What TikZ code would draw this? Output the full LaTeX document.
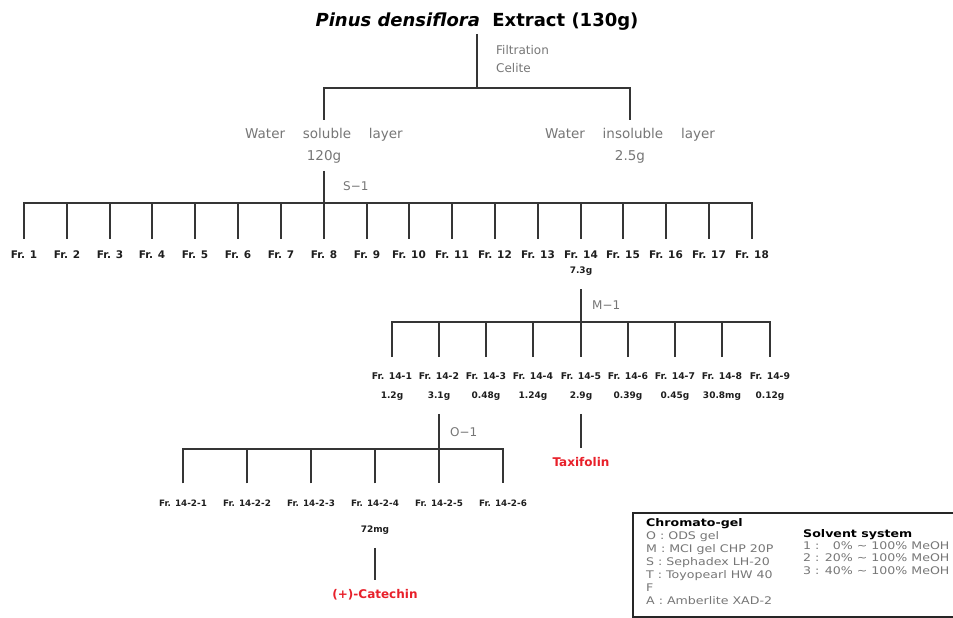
\documentclass[tikz,border=0pt]{standalone}
\usepackage{fontspec}
\setmainfont{DejaVu Sans}
\newfontfamily\legendfont{DejaVu Sans}[FakeStretch=1.2]
\usepackage{tikz}

\definecolor{linegray}{HTML}{353535}
\definecolor{notegray}{HTML}{767676}
\definecolor{fracblack}{HTML}{1E1E1E}
\definecolor{hitred}{HTML}{E8202A}

\begin{document}
\begin{tikzpicture}[x=1pt, y=-1pt,
	link/.style={draw=linegray, line width=2pt},
	title/.style={font=\bfseries\fontsize{18}{22}\selectfont, inner sep=0pt, outer ysep=3pt},
	note/.style={text=notegray, font=\fontsize{12}{18}\selectfont, inner sep=0pt},
	layer/.style={text=notegray, font=\fontsize{13.5}{22}\selectfont, align=center, inner sep=0pt, outer ysep=8pt},
	frone/.style={text=fracblack, font=\bfseries\fontsize{10.5}{12}\selectfont, inner sep=0pt, text height=7.5pt, text depth=0pt, outer ysep=12.5pt},
	frtwo/.style={text=fracblack, font=\bfseries\fontsize{9.3}{11}\selectfont, inner sep=0pt, text height=6.7pt, text depth=0pt, outer ysep=15.5pt},
	frthree/.style={text=fracblack, font=\bfseries\fontsize{8.8}{10}\selectfont, inner sep=0pt, text height=6.4pt, text depth=0pt, outer ysep=16.5pt},
	yield/.style={text=fracblack, font=\bfseries\fontsize{9}{11}\selectfont, inner sep=0pt, text height=6.5pt, text depth=2pt, outer ysep=13.5pt},
	hit/.style={text=hitred, font=\bfseries\fontsize{12}{14}\selectfont, inner sep=0pt, text height=8.8pt, text depth=2.5pt, outer ysep=9pt},
	legendbox/.style={draw=black!85, line width=2pt},
	legendtext/.style={text=notegray, font=\legendfont\fontsize{10.5}{13}\selectfont, align=left, inner sep=0pt, anchor=north west}]
	\def \sx {24}
	\def \sdx {42.82}
	\def \sy {255}
	\def \mx {391.7}
	\def \mdx {47.25}
	\def \my {376}
	\def \mw {396}
	\def \ox {183}
	\def \odx {64}
	\def \oy {503}

	\useasboundingbox (0,0) rectangle (953,618);
	\clip (0,0) rectangle (953,618);

	\node[title] (extract) at (477,22) {\textit{Pinus densiflora}\ \ Extract (130g)};
	\node[note, anchor=north west, align=left] (filtration) at (496,45) {Filtration\\Celite};
	\coordinate (split) at (477,88);
	\node[layer] (soluble) at (324,145.3) {Water \quad soluble \quad layer\\120g};
	\node[layer] (insoluble) at (630,145.3) {Water \quad insoluble \quad layer\\2.5g};

	\draw[link] (extract.south) -- (split);
	\draw[link] (soluble.north) |- (split) -| (insoluble.north);

	% S-1 column
	\node[note, anchor=west] (sone) at (343,186) {S−1};
	\coordinate (sbar) at (324,203);
	\node[frone] (fr1)  at ({round(\sx + \sdx * 0)}, \sy)  {Fr. 1};
	\node[frone] (fr2)  at ({round(\sx + \sdx * 1)}, \sy)  {Fr. 2};
	\node[frone] (fr3)  at ({round(\sx + \sdx * 2)}, \sy)  {Fr. 3};
	\node[frone] (fr4)  at ({round(\sx + \sdx * 3)}, \sy)  {Fr. 4};
	\node[frone] (fr5)  at ({round(\sx + \sdx * 4)}, \sy)  {Fr. 5};
	\node[frone] (fr6)  at ({round(\sx + \sdx * 5)}, \sy)  {Fr. 6};
	\node[frone] (fr7)  at ({round(\sx + \sdx * 6)}, \sy)  {Fr. 7};
	\node[frone] (fr8)  at ({round(\sx + \sdx * 7)}, \sy)  {Fr. 8};
	\node[frone] (fr9)  at ({round(\sx + \sdx * 8)}, \sy)  {Fr. 9};
	\node[frone] (fr10) at ({round(\sx + \sdx * 9)}, \sy)  {Fr. 10};
	\node[frone] (fr11) at ({round(\sx + \sdx * 10)}, \sy) {Fr. 11};
	\node[frone] (fr12) at ({round(\sx + \sdx * 11)}, \sy) {Fr. 12};
	\node[frone] (fr13) at ({round(\sx + \sdx * 12)}, \sy) {Fr. 13};
	\node[frone] (fr14) at ({round(\sx + \sdx * 13)}, \sy) {Fr. 14};
	\node[frone] (fr15) at ({round(\sx + \sdx * 14)}, \sy) {Fr. 15};
	\node[frone] (fr16) at ({round(\sx + \sdx * 15)}, \sy) {Fr. 16};
	\node[frone] (fr17) at ({round(\sx + \sdx * 16)}, \sy) {Fr. 17};
	\node[frone] (fr18) at ({round(\sx + \sdx * 17)}, \sy) {Fr. 18};
	\node[yield] (fr14w) at ({round(\sx + \sdx * 13)}, 271.5) {7.3g};

	\draw[link] (soluble.south) -- (fr8.north);
	\draw[link] (fr1.north) |- (sbar) -| (fr18.north);
	\draw[link] (fr2.north) -- (fr2.north |- sbar)
		(fr3.north) -- (fr3.north |- sbar)
		(fr4.north) -- (fr4.north |- sbar)
		(fr5.north) -- (fr5.north |- sbar)
		(fr6.north) -- (fr6.north |- sbar)
		(fr7.north) -- (fr7.north |- sbar);
	\draw[link] (fr9.north) -- (fr9.north |- sbar)
		(fr10.north) -- (fr10.north |- sbar)
		(fr11.north) -- (fr11.north |- sbar)
		(fr12.north) -- (fr12.north |- sbar)
		(fr13.north) -- (fr13.north |- sbar)
		(fr14.north) -- (fr14.north |- sbar)
		(fr15.north) -- (fr15.north |- sbar)
		(fr16.north) -- (fr16.north |- sbar)
		(fr17.north) -- (fr17.north |- sbar);

	% M-1 column
	\node[note, anchor=west] (mone) at (592,305) {M−1};
	\coordinate (mbar) at (581,322);
	\node[frtwo] (fr141) at ({round(\mx + \mdx * 0)}, \my) {Fr. 14-1};
	\node[frtwo] (fr142) at ({round(\mx + \mdx * 1)}, \my) {Fr. 14-2};
	\node[frtwo] (fr143) at ({round(\mx + \mdx * 2)}, \my) {Fr. 14-3};
	\node[frtwo] (fr144) at ({round(\mx + \mdx * 3)}, \my) {Fr. 14-4};
	\node[frtwo] (fr145) at ({round(\mx + \mdx * 4)}, \my) {Fr. 14-5};
	\node[frtwo] (fr146) at ({round(\mx + \mdx * 5)}, \my) {Fr. 14-6};
	\node[frtwo] (fr147) at ({round(\mx + \mdx * 6)}, \my) {Fr. 14-7};
	\node[frtwo] (fr148) at ({round(\mx + \mdx * 7)}, \my) {Fr. 14-8};
	\node[frtwo] (fr149) at ({round(\mx + \mdx * 8)}, \my) {Fr. 14-9};
	\node[yield] (w141) at ({round(\mx + \mdx * 0)}, \mw) {1.2g};
	\node[yield] (w142) at ({round(\mx + \mdx * 1)}, \mw) {3.1g};
	\node[yield] (w143) at ({round(\mx + \mdx * 2)}, \mw) {0.48g};
	\node[yield] (w144) at ({round(\mx + \mdx * 3)}, \mw) {1.24g};
	\node[yield] (w145) at ({round(\mx + \mdx * 4)}, \mw) {2.9g};
	\node[yield] (w146) at ({round(\mx + \mdx * 5)}, \mw) {0.39g};
	\node[yield] (w147) at ({round(\mx + \mdx * 6)}, \mw) {0.45g};
	\node[yield] (w148) at ({round(\mx + \mdx * 7)}, \mw) {30.8mg};
	\node[yield] (w149) at ({round(\mx + \mdx * 8)}, \mw) {0.12g};

	\draw[link] (fr14w.south) -- (fr145.north);
	\draw[link] (fr141.north) |- (mbar) -| (fr149.north);
	\draw[link] (fr142.north) -- (fr142.north |- mbar)
		(fr143.north) -- (fr143.north |- mbar)
		(fr144.north) -- (fr144.north |- mbar)
		(fr146.north) -- (fr146.north |- mbar)
		(fr147.north) -- (fr147.north |- mbar)
		(fr148.north) -- (fr148.north |- mbar);

	\node[hit] (taxifolin) at ({round(\mx + \mdx * 4)}, 463) {Taxifolin};
	\draw[link] (w145.south) -- (taxifolin.north);

	% O-1 column
	\node[note, anchor=west] (oone) at (450,432) {O−1};
	\coordinate (obar) at (439,449);
	\node[frthree] (fr1421) at ({\ox + \odx * 0}, \oy) {Fr. 14-2-1};
	\node[frthree] (fr1422) at ({\ox + \odx * 1}, \oy) {Fr. 14-2-2};
	\node[frthree] (fr1423) at ({\ox + \odx * 2}, \oy) {Fr. 14-2-3};
	\node[frthree] (fr1424) at ({\ox + \odx * 3}, \oy) {Fr. 14-2-4};
	\node[frthree] (fr1425) at ({\ox + \odx * 4}, \oy) {Fr. 14-2-5};
	\node[frthree] (fr1426) at ({\ox + \odx * 5}, \oy) {Fr. 14-2-6};
	\node[yield] (w1424) at ({\ox + \odx * 3}, 530) {72mg};

	\draw[link] (w142.south) -- (fr1425.north);
	\draw[link] (fr1421.north) |- (obar) -| (fr1426.north);
	\draw[link] (fr1422.north) -- (fr1422.north |- obar)
		(fr1423.north) -- (fr1423.north |- obar)
		(fr1424.north) -- (fr1424.north |- obar);

	\node[hit] (catechin) at ({\ox + \odx * 3}, 595) {(+)-Catechin};
	\draw[link] (w1424.south) -- (catechin.north);

	% legend
	\draw[legendbox] (633,513) rectangle (990,617);
	\node[legendtext] (gels) at (646,518)
		{\textcolor{black}{\bfseries Chromato-gel}\\O : ODS gel\\M : MCI gel CHP 20P\\S : Sephadex LH-20\\T : Toyopearl HW 40\\F\\A : Amberlite XAD-2};
	\node[legendtext, font=\legendfont\fontsize{10.5}{12.3}\selectfont] (solvents) at (803,529)
		{\textcolor{black}{\bfseries Solvent system}\\1 : \phantom{2}0\% \textasciitilde{} 100\% MeOH\\2 : 20\% \textasciitilde{} 100\% MeOH\\3 : 40\% \textasciitilde{} 100\% MeOH};
\end{tikzpicture}
\end{document}
